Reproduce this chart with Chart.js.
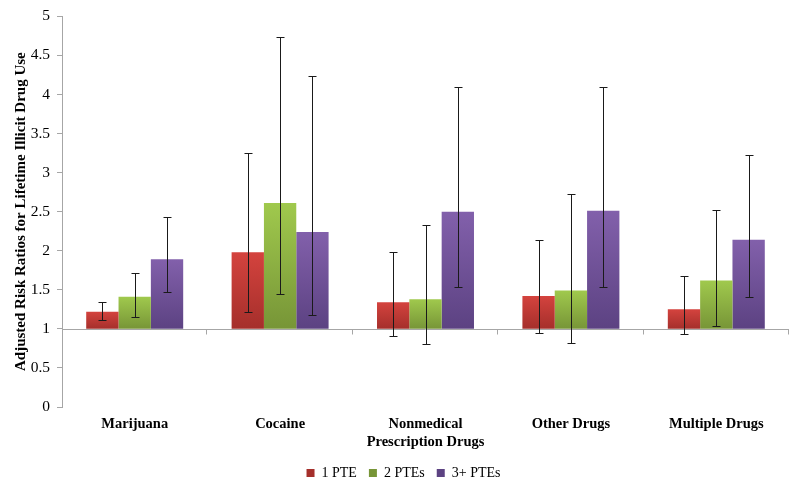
<!DOCTYPE html>
<html><head><meta charset="utf-8">
<script src="https://cdn.jsdelivr.net/npm/chart.js@4"></script>
<style>html,body{margin:0;padding:0;background:#fff}#w{width:800px;height:486px}</style>
</head><body><div id="w"><canvas id="c"></canvas></div>
<script>
const categories = ['Marijuana', 'Cocaine', ['Nonmedical', 'Prescription Drugs'], 'Other Drugs', 'Multiple Drugs'];
const seriesNames = ['1 PTE', '2 PTEs', '3+ PTEs'];
const baseline = 1;
const pte1 = [1.22, 1.98, 1.34, 1.42, 1.25];
const pte2 = [1.41, 2.61, 1.38, 1.49, 1.62];
const pte3 = [1.89, 2.24, 2.50, 2.51, 2.14];
const pte1Lo = [1.11, 1.21, 0.91, 0.95, 0.94];
const pte1Hi = [1.35, 3.25, 1.99, 2.14, 1.68];
const pte2Lo = [1.15, 1.44, 0.81, 0.82, 1.04];
const pte2Hi = [1.72, 4.74, 2.33, 2.73, 2.52];
const pte3Lo = [1.47, 1.18, 1.53, 1.54, 1.41];
const pte3Hi = [2.43, 4.23, 4.09, 4.10, 3.23];
const yTickLabels = ['0', '0.5', '1', '1.5', '2', '2.5', '3', '3.5', '4', '4.5', '5'];

const colors = [
  {top: '#d4433e', bottom: '#a52f2b', solid: '#c0392f'},
  {top: '#a0c94d', bottom: '#779537', solid: '#8db843'},
  {top: '#8260ab', bottom: '#5c4282', solid: '#6e4f98'}
];
const values = [pte1, pte2, pte3];
const lows = [pte1Lo, pte2Lo, pte3Lo];
const highs = [pte1Hi, pte2Hi, pte3Hi];

function gradFor(i) {
  return function(ctx) {
    const chart = ctx.chart;
    if (ctx.type !== 'data' || !chart.chartArea) return colors[i].solid;
    const y = chart.scales.y;
    const v = ctx.raw;
    const t = y.getPixelForValue(Math.max(v[0], v[1]));
    const b = y.getPixelForValue(Math.min(v[0], v[1]));
    if (!isFinite(t) || !isFinite(b) || t === b) return colors[i].solid;
    const g = chart.ctx.createLinearGradient(0, t, 0, b);
    g.addColorStop(0, colors[i].top);
    g.addColorStop(1, colors[i].bottom);
    return g;
  };
}

const datasets = values.map((arr, i) => ({
  label: seriesNames[i],
  data: arr.map(v => [baseline, v]),
  backgroundColor: gradFor(i),
  borderWidth: 0,
  categoryPercentage: 0.667,
  barPercentage: 1.0
}));

const baseAxisPlugin = {
  id: 'baseAxis',
  beforeDatasetsDraw(chart) {
    const {ctx, chartArea, scales} = chart;
    const yb = Math.round(scales.y.getPixelForValue(baseline)) + 0.5;
    ctx.save();
    ctx.strokeStyle = '#a6a6a6';
    ctx.lineWidth = 1;
    ctx.beginPath();
    ctx.moveTo(chartArea.left, yb);
    ctx.lineTo(chartArea.right, yb);
    const n = categories.length;
    const w = (chartArea.right - chartArea.left) / n;
    for (let k = 1; k <= n; k++) {
      const x = Math.round(chartArea.left + k * w) - 0.5;
      ctx.moveTo(x, yb);
      ctx.lineTo(x, yb + 5);
    }
    ctx.stroke();
    ctx.restore();
  }
};

const errorBarPlugin = {
  id: 'errorBars',
  afterDatasetsDraw(chart) {
    const {ctx, scales} = chart;
    ctx.save();
    ctx.strokeStyle = '#1a1a1a';
    ctx.lineWidth = 1;
    for (let i = 0; i < values.length; i++) {
      const meta = chart.getDatasetMeta(i);
      meta.data.forEach((bar, j) => {
        const x = Math.round(bar.x) + 0.5;
        const yl = Math.round(scales.y.getPixelForValue(lows[i][j])) + 0.5;
        const yh = Math.round(scales.y.getPixelForValue(highs[i][j])) + 0.5;
        ctx.beginPath();
        ctx.moveTo(x, yl); ctx.lineTo(x, yh);
        ctx.moveTo(x - 4, yl); ctx.lineTo(x + 4, yl);
        ctx.moveTo(x - 4, yh); ctx.lineTo(x + 4, yh);
        ctx.stroke();
      });
    }
    ctx.restore();
  }
};

new Chart(document.getElementById('c'), {
  type: 'bar',
  data: {labels: categories, datasets},
  plugins: [baseAxisPlugin, errorBarPlugin],
  options: {
    responsive: true,
    maintainAspectRatio: false,
    animation: false,
    layout: {padding: {top: 11.5, right: 11, left: 18, bottom: -4}},
    plugins: {
      legend: {
        position: 'bottom',
        labels: {
          usePointStyle: true,
          pointStyle: 'rect',
          boxWidth: 8,
          boxHeight: 8,
          padding: 12,
          color: '#000',
          font: {family: 'Liberation Serif', size: 14}
        }
      },
      tooltip: {enabled: false}
    },
    scales: {
      x: {
        grid: {display: false, drawTicks: false},
        border: {display: false},
        ticks: {
          autoSkip: false, maxRotation: 0, minRotation: 0, padding: 9,
          color: '#000',
          font: {family: 'Liberation Serif', size: 14.5, weight: 'bold'}
        },
        afterFit: s => { s.height = 47; }
      },
      y: {
        min: 0, max: 5,
        grid: {drawOnChartArea: false, color: '#a6a6a6', tickLength: 5},
        border: {color: '#a6a6a6'},
        ticks: {
          stepSize: 0.5, padding: 7, color: '#000',
          font: {family: 'Liberation Serif', size: 15.5},
          callback: (v, idx) => yTickLabels[idx]
        },
        title: {
          display: true,
          text: 'Adjusted Risk Ratios for Lifetime Illicit Drug Use',
          color: '#000',
          font: {family: 'Liberation Serif', size: 15, weight: 'bold'},
          padding: {top: -5.5, bottom: 0}
        },
        afterFit: s => { s.width = 44; }
      }
    }
  }
});
</script></body></html>
